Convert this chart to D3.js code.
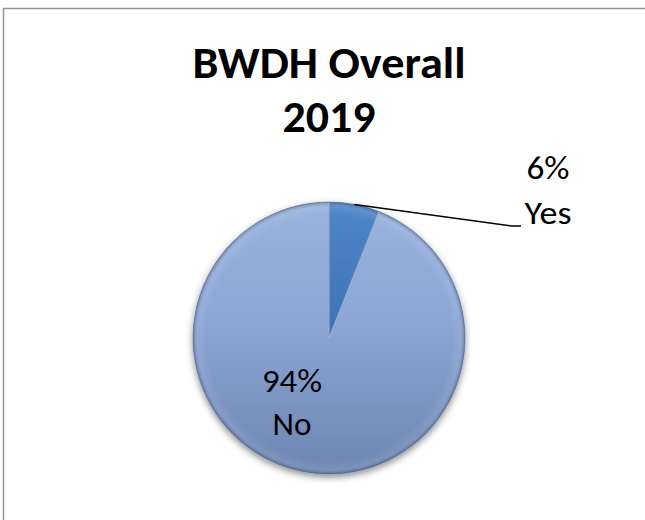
<!DOCTYPE html>
<html>
<head>
<meta charset="utf-8">
<script src="https://cdn.jsdelivr.net/npm/d3@7/dist/d3.min.js"></script>
<style>
  html, body { margin: 0; padding: 0; background: #ffffff; }
  svg { display: block; }
</style>
</head>
<body>
<script>
// Survey answers, in drawing order (clockwise from 12 o'clock)
const categories = ["Yes", "No"];
const values = [6, 94];
const percentLabels = ["6%", "94%"];
const titleLines = ["BWDH Overall", "2019"];

const W = 645, H = 520;
const cx = 329, cy = 338, R = 136;
const font = "Carlito, Calibri, 'Liberation Sans', Arial, sans-serif";

const svg = d3.select("body").append("svg")
  .attr("width", W).attr("height", H);

const defs = svg.append("defs");

// Slice fills: soft vertical shading like an Office bevelled pie
// (coordinates are relative to the pie centre)
const grads = {
  No:  ["#9ab4de", "#8ba5d5", "#6c85b1"],
  Yes: ["#4f86c8", "#3f74b8", "#2f5f9e"]
};
Object.entries(grads).forEach(([k, c]) => {
  const g = defs.append("linearGradient")
    .attr("id", "fill-" + k)
    .attr("gradientUnits", "userSpaceOnUse")
    .attr("x1", 0).attr("y1", -R).attr("x2", 0).attr("y2", R);
  g.append("stop").attr("offset", "0%").attr("stop-color", c[0]);
  g.append("stop").attr("offset", "45%").attr("stop-color", c[1]);
  g.append("stop").attr("offset", "100%").attr("stop-color", c[2]);
});

// Rim shading: a faint light band just inside a darker outer edge
const rim = defs.append("radialGradient")
  .attr("id", "rim")
  .attr("gradientUnits", "userSpaceOnUse")
  .attr("cx", 0).attr("cy", 0).attr("r", R);
rim.append("stop").attr("offset", "90%").attr("stop-color", "#fff").attr("stop-opacity", 0);
rim.append("stop").attr("offset", "96%").attr("stop-color", "#fff").attr("stop-opacity", 0.08);
rim.append("stop").attr("offset", "100%").attr("stop-color", "#1f2f50").attr("stop-opacity", 0.35);

const shadow = defs.append("filter")
  .attr("id", "shadow")
  .attr("x", "-20%").attr("y", "-20%").attr("width", "140%").attr("height", "140%");
shadow.append("feDropShadow")
  .attr("dx", 0).attr("dy", 3).attr("stdDeviation", 3.5)
  .attr("flood-color", "#000").attr("flood-opacity", 0.45);

// Chart area border
svg.append("rect")
  .attr("x", 3.5).attr("y", 8.5)
  .attr("width", W + 10).attr("height", H + 10)
  .attr("fill", "none")
  .attr("stroke", "#969696").attr("stroke-width", 1.5);

// Title
const titleSizes = [{ y: 78, len: 273 }, { y: 132, len: 93 }];
svg.append("g").selectAll("text")
  .data(titleLines)
  .join("text")
  .attr("x", cx)
  .attr("y", (d, i) => titleSizes[i].y)
  .attr("text-anchor", "middle")
  .attr("font-family", font)
  .attr("font-weight", "bold")
  .attr("font-size", 45)
  .attr("fill", "#000")
  .attr("textLength", (d, i) => titleSizes[i].len)
  .attr("lengthAdjust", "spacingAndGlyphs")
  .text(d => d);

// Pie
const data = categories.map((c, i) => ({ cat: c, value: values[i], pct: percentLabels[i] }));
const pie = d3.pie().sort(null).value(d => d.value).startAngle(0).endAngle(2 * Math.PI);
const arcs = pie(data);
const arc = d3.arc().innerRadius(0).outerRadius(R);

const gPie = svg.append("g").attr("transform", `translate(${cx},${cy})`);

gPie.append("g").attr("filter", "url(#shadow)")
  .selectAll("path")
  .data(arcs)
  .join("path")
  .attr("d", arc)
  .attr("fill", d => `url(#fill-${d.data.cat})`)
  .attr("stroke", "#5d77a3")
  .attr("stroke-width", 0.6)
  .attr("stroke-linejoin", "round");

gPie.append("circle")
  .attr("cx", 0).attr("cy", 0).attr("r", R)
  .attr("fill", "url(#rim)")
  .attr("pointer-events", "none");

// Light seams along slice edges
gPie.selectAll("line.seam")
  .data(arcs)
  .join("line")
  .attr("class", "seam")
  .attr("x1", 0).attr("y1", 0)
  .attr("x2", d => R * Math.sin(d.startAngle))
  .attr("y2", d => -R * Math.cos(d.startAngle))
  .attr("stroke", "#c4d4ee")
  .attr("stroke-opacity", 0.5)
  .attr("stroke-width", 1.2);

// Labels
const labelStyle = sel => sel
  .attr("text-anchor", "middle")
  .attr("font-family", font)
  .attr("font-size", 33)
  .attr("fill", "#000")
  .attr("lengthAdjust", "spacingAndGlyphs");

// "Yes" label sits outside with a leader line
const yes = arcs[0];
const mid = (yes.startAngle + yes.endAngle) / 2;
const p0 = [cx + R * Math.sin(mid), cy - R * Math.cos(mid)];
svg.append("polyline")
  .attr("points", [p0, [512, 226], [521, 226]].map(p => p.join(",")).join(" "))
  .attr("fill", "none")
  .attr("stroke", "#000")
  .attr("stroke-width", 1.5);

svg.append("text").call(labelStyle)
  .attr("x", 548).attr("y", 179)
  .attr("textLength", 43)
  .text(yes.data.pct);
svg.append("text").call(labelStyle)
  .attr("x", 548).attr("y", 224)
  .attr("textLength", 47)
  .text(yes.data.cat);

// "No" label inside the large slice
const no = arcs[1];
svg.append("text").call(labelStyle)
  .attr("x", 292).attr("y", 392)
  .attr("textLength", 60)
  .text(no.data.pct);
svg.append("text").call(labelStyle)
  .attr("x", 292).attr("y", 435)
  .attr("textLength", 39)
  .text(no.data.cat);
</script>
</body>
</html>
